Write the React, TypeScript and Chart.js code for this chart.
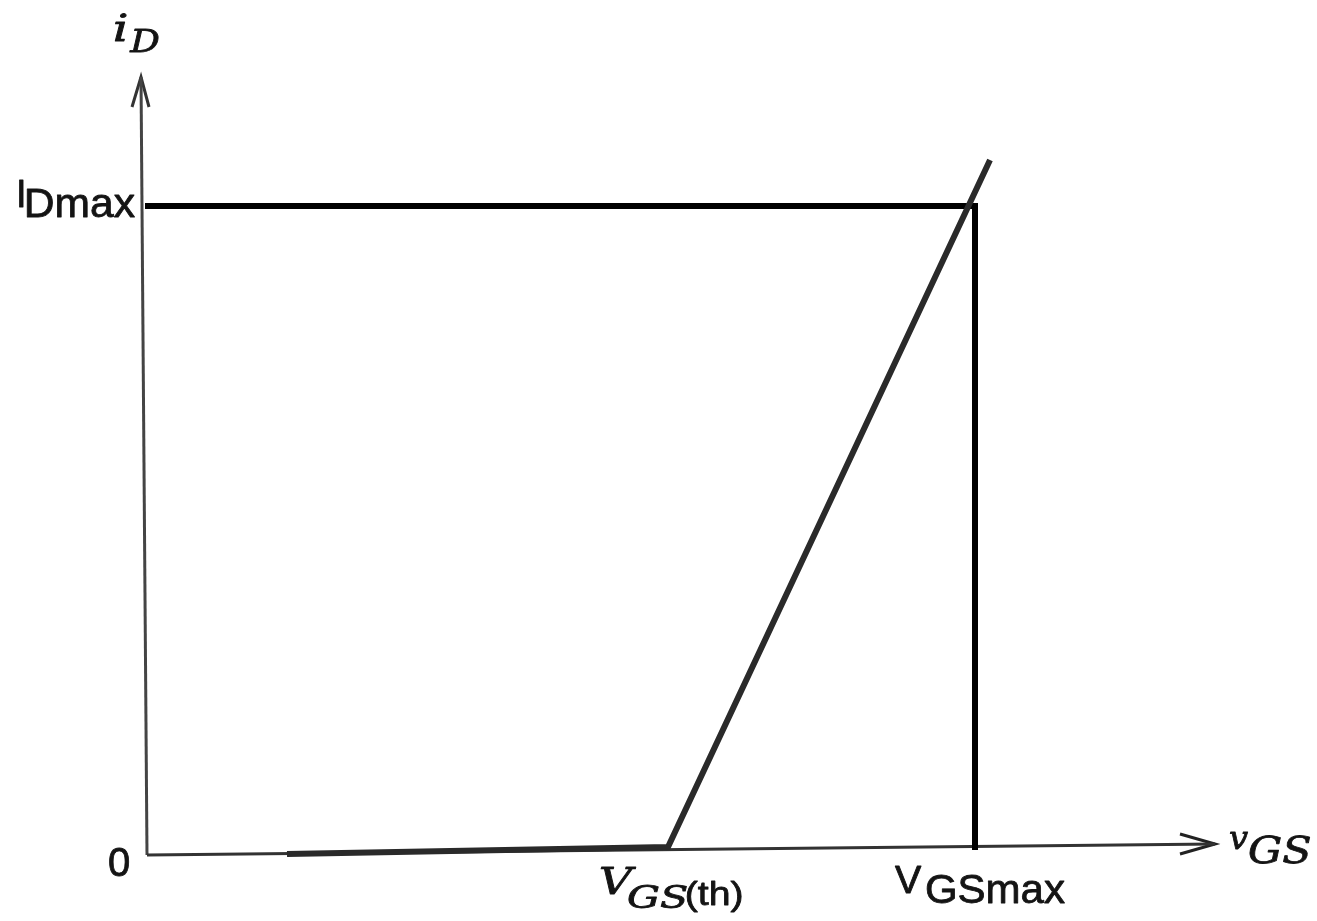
import React, { useEffect, useRef } from "react";
import { Chart, registerables } from "chart.js";

Chart.register(...registerables);

// Transfer characteristic (arbitrary units)
const curveX = [1.4, 5.21, 8.43];
const curveY = [0.01, 0.08, 6.95];

const limitX = [-0.02, 8.28, 8.28];
const limitY = [6.49, 6.49, 0.05];

const axisXx = [0, 10.68];
const axisXy = [0, 0.11];
const axisYx = [0, -0.06];
const axisYy = [0, 7.78];

const arrowXx = [10.33, 10.68, 10.33];
const arrowXy = [0.21, 0.11, 0.01];
const arrowYx = [-0.15, -0.06, 0.02];
const arrowYy = [7.48, 7.78, 7.48];

const VTH = 5.21;
const VMAX = 8.28;
const IDMAX = 6.49;

const xRange = [-1.47, 11.7];
const yRange = [-0.66, 8.55];

const pts = (xs: number[], ys: number[]) => xs.map((x, i) => ({ x, y: ys[i] }));

const SANS = (s: number) => `400 ${s}px 'Liberation Sans', Arial, sans-serif`;
const MATH = (s: number) => `italic 400 ${s}px 'DejaVu Serif', 'Liberation Serif', serif`;

const labelsPlugin = {
  id: "labels",
  afterDraw(chart: any) {
    const ctx = chart.ctx as CanvasRenderingContext2D;
    const xs = chart.scales.x;
    const ys = chart.scales.y;
    const px = (v: number) => xs.getPixelForValue(v);
    const py = (v: number) => ys.getPixelForValue(v);
    ctx.save();
    ctx.fillStyle = "#141414";
    ctx.strokeStyle = "#141414";
    ctx.lineWidth = 0.8;
    ctx.lineJoin = "round";
    ctx.textAlign = "left";
    ctx.textBaseline = "alphabetic";
    // draw text with left edge x, baseline y, optionally stretched to width w
    const run = (t: string, font: string, x: number, y: number, w?: number) => {
      ctx.font = font;
      if (!w) {
        ctx.fillText(t, x, y);
        ctx.strokeText(t, x, y);
        return;
      }
      const m = ctx.measureText(t);
      const tw = m.actualBoundingBoxRight + m.actualBoundingBoxLeft || m.width;
      const sx = w / tw;
      ctx.save();
      ctx.translate(x, y);
      ctx.scale(sx, 1);
      ctx.fillText(t, m.actualBoundingBoxLeft || 0, 0);
      ctx.strokeText(t, m.actualBoundingBoxLeft || 0, 0);
      ctx.restore();
    };
    // i_D at top of vertical axis
    const tx = px(axisYx[1]);
    const ty = py(axisYy[1]);
    run("i", MATH(38), tx - 27, ty - 36, 13);
    run("D", MATH(32), tx - 12, ty - 25, 30);
    // I_Dmax
    const ox = px(0);
    const iy = py(IDMAX);
    run("I", SANS(38), ox - 131, iy + 1);
    run("Dmax", SANS(40), ox - 120, iy + 11, 108);
    // origin 0
    run("0", SANS(40), ox - 38, py(0) + 21, 20);
    // V_GS(th)
    const vx = px(VTH);
    const by = py(0);
    run("V", MATH(37), vx - 68, by + 39, 36);
    run("GS", MATH(32), vx - 41, by + 53, 60);
    run("(th)", SANS(34), vx + 19, by + 50, 55);
    // V_GSmax
    const mx = px(VMAX);
    run("V", SANS(38), mx - 80, by + 38, 27);
    run("GSmax", SANS(40), mx - 48, by + 48, 138);
    // v_GS
    const ax = px(axisXx[1]);
    const ay = py(axisXy[1]);
    run("v", MATH(32), ax + 15, ay + 5, 18);
    run("GS", MATH(37), ax + 33, ay + 19, 62);
    ctx.restore();
  },
};

export default function App() {
  const ref = useRef<HTMLCanvasElement | null>(null);
  useEffect(() => {
    if (!ref.current) return;
    const chart = new Chart(ref.current, {
      type: "scatter",
      data: {
        datasets: [
          {
            label: "iD",
            data: pts(curveX, curveY),
            showLine: true,
            borderColor: "#2a2a2a",
            borderWidth: 6,
            pointRadius: 0,
            order: 1,
          },
          {
            label: "limits",
            data: pts(limitX, limitY),
            showLine: true,
            borderColor: "#000",
            borderWidth: 6,
            pointRadius: 0,
            borderJoinStyle: "miter",
            order: 2,
          },
          {
            label: "x axis",
            data: pts(axisXx, axisXy),
            showLine: true,
            borderColor: "#333",
            borderWidth: 3,
            pointRadius: 0,
            order: 3,
          },
          {
            label: "y axis",
            data: pts(axisYx, axisYy),
            showLine: true,
            borderColor: "#444",
            borderWidth: 3,
            pointRadius: 0,
            order: 3,
          },
          {
            label: "x arrow",
            data: pts(arrowXx, arrowXy),
            showLine: true,
            borderColor: "#222",
            borderWidth: 3,
            pointRadius: 0,
            order: 3,
          },
          {
            label: "y arrow",
            data: pts(arrowYx, arrowYy),
            showLine: true,
            borderColor: "#333",
            borderWidth: 3,
            pointRadius: 0,
            order: 3,
          },
        ],
      },
      options: {
        animation: false,
        responsive: false,
        devicePixelRatio: 1,
        layout: { padding: 0 },
        plugins: {
          legend: { display: false },
          tooltip: { enabled: false },
          title: { display: false },
        },
        scales: {
          x: { type: "linear", min: xRange[0], max: xRange[1], display: false },
          y: { type: "linear", min: yRange[0], max: yRange[1], display: false },
        },
        elements: { line: { tension: 0, borderCapStyle: "butt" } },
      },
      plugins: [labelsPlugin],
    });
    return () => chart.destroy();
  }, []);
  return (
    <div style={{ position: "fixed", left: 0, top: 0, width: 1317, height: 921, background: "#fff" }}>
      <canvas ref={ref} width={1317} height={921} style={{ display: "block" }} />
    </div>
  );
}
